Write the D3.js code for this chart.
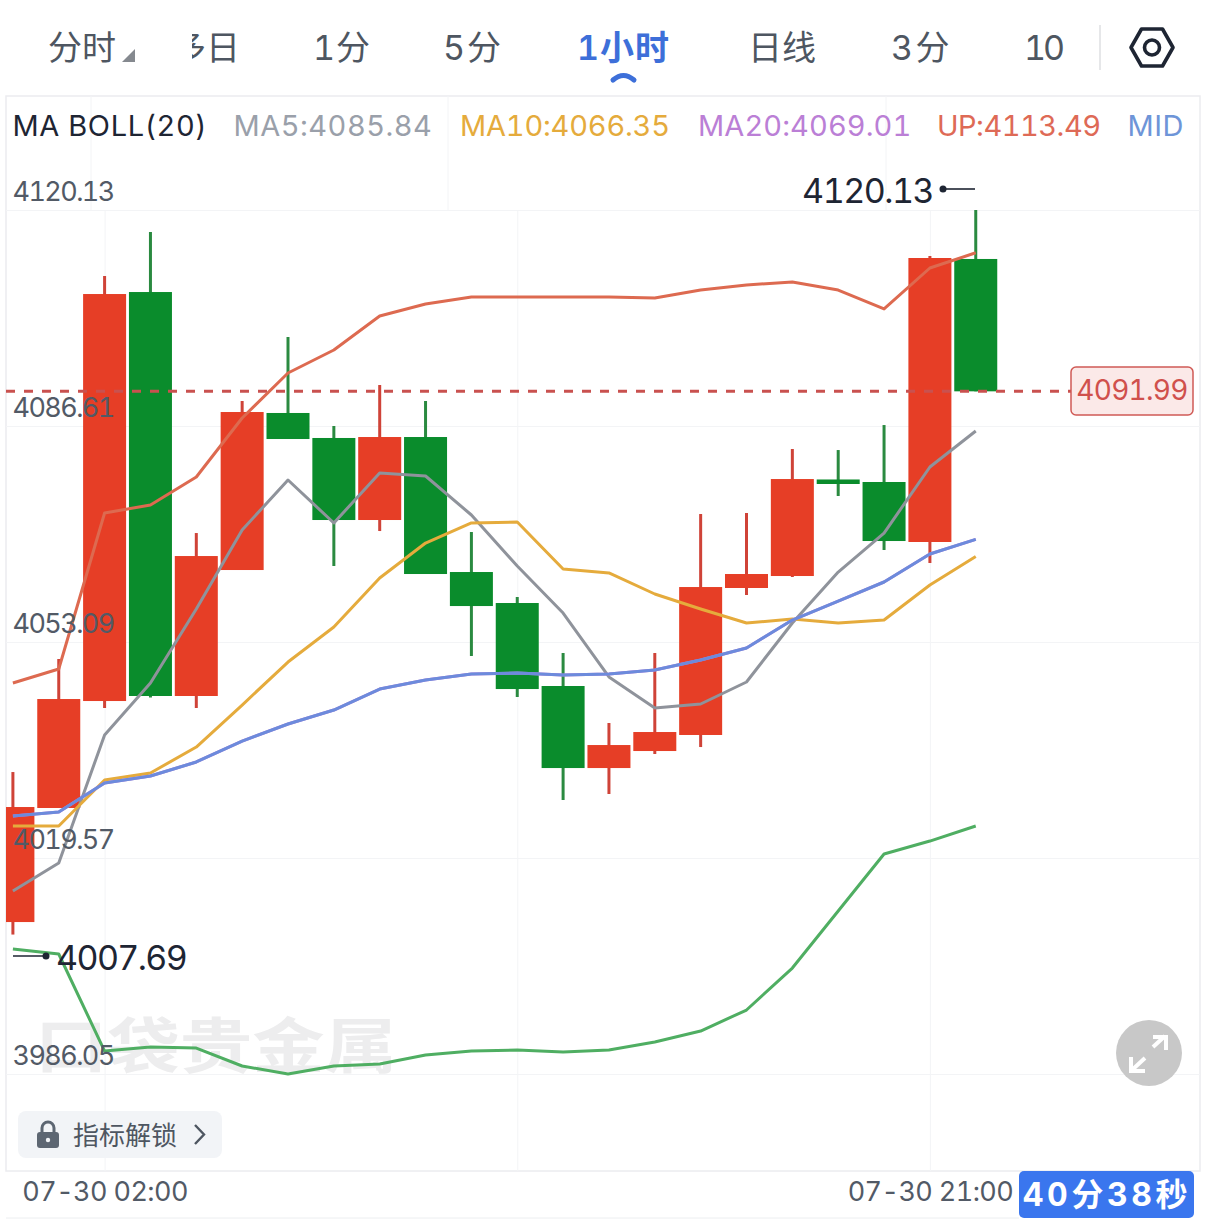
<!DOCTYPE html>
<html><head><meta charset="utf-8">
<style>html,body{margin:0;padding:0;background:#fff}svg{display:block}
text{font-family:Inter,"Noto Sans CJK SC",sans-serif;font-variant-numeric:tabular-nums}</style>
<script src="https://cdn.jsdelivr.net/npm/d3@7"></script>
</head><body><svg id="c" width="1206" height="1219"></svg>
<script>
const tabs=["分时","多日","1分","5分","1小时","日线","3分","10"];
const priceTicks=[4120.13,4086.61,4053.09,4019.57,3986.05];
const timeTickIndex=[2,11,20];
const timeTickLabels=["07-30 02:00","","07-30 21:00"];
const opens =[4009.63,4027.33,4043.93,4107.40,4044.71,4064.26,4088.63,4084.75,4072.02,4084.90,4063.95,4059.14,4046.26,4033.53,4036.17,4038.66,4061.47,4063.33,4078.31,4077.92,4068.61,4112.53];
const closes=[4027.48,4044.24,4107.09,4044.71,4066.43,4088.78,4084.59,4072.02,4084.90,4063.64,4058.67,4045.79,4033.53,4037.10,4039.12,4061.62,4063.64,4078.38,4077.61,4068.76,4112.68,4091.99];
const highs =[4032.91,4050.45,4109.89,4116.72,4070.00,4090.49,4100.42,4086.61,4092.97,4090.49,4070.16,4060.07,4051.38,4040.52,4051.38,4072.95,4073.11,4083.04,4082.88,4086.76,4112.99,4120.13];
const lows  =[4007.69,4027.33,4042.85,4044.48,4042.85,4064.26,4084.59,4064.88,4070.31,4063.64,4050.92,4044.55,4028.57,4029.50,4035.71,4036.79,4060.38,4063.18,4075.75,4067.37,4065.35,4091.99];
const ma5=[4014.45,4018.79,4038.66,4046.72,4058.21,4070.47,4078.23,4071.56,4079.32,4078.85,4072.80,4064.88,4057.59,4047.66,4042.85,4043.47,4046.88,4056.04,4063.95,4070.00,4080.25,4085.84];
const ma10=[4024.53,4024.53,4031.67,4032.76,4036.79,4043.31,4049.98,4055.42,4063.02,4068.45,4071.56,4071.71,4064.42,4063.80,4060.54,4058.21,4056.04,4056.66,4056.04,4056.50,4061.93,4066.35];
const mid=[4026.08,4026.71,4031.21,4032.29,4034.47,4037.72,4040.36,4042.53,4045.79,4047.19,4048.12,4048.28,4047.97,4048.12,4048.74,4050.29,4052.16,4056.50,4059.45,4062.40,4066.74,4069.01];
const up=[4046.72,4048.90,4073.11,4074.35,4078.69,4087.85,4094.83,4098.40,4103.68,4105.54,4106.63,4106.63,4106.63,4106.63,4106.47,4107.71,4108.49,4108.96,4107.71,4104.77,4111.13,4113.49];
const dn=[4005.44,4004.67,3989.61,3990.24,3990.08,3987.29,3986.05,3987.29,3987.60,3988.99,3989.61,3989.77,3989.46,3989.77,3991.01,3992.72,3995.98,4002.49,4011.34,4020.19,4022.20,4024.53];
const legendNames=["MA BOLL(20)","MA5:4085.84","MA10:4066.35","MA20:4069.01","UP:4113.49","MID"];
const lastPrice=4091.99, maxPrice=4120.13, minPrice=4007.69;

const svg=d3.select("#c");
const RED="#e63e26",GREEN="#0a8c2c",RWICK="#cf4338",GWICK="#2a8a40",GRID="#f3f4f6",TXT="#525a66",DARK="#1e2533";
const L=6,R=1200,T=96,B=1171;
const x=d3.scaleLinear().domain([0,21]).range([12.9,975.75]);
const y=d3.scaleLinear().domain([3986.05,4120.13]).range([1074,210]);
const BW=43;

svg.append("rect").attr("x",L).attr("y",T).attr("width",R-L).attr("height",B-T).attr("fill","#fff").attr("stroke","#ebecef").attr("stroke-width",1.5);
svg.append("g").selectAll("line").data([91,448,886]).join("line")
 .attr("x1",d=>d).attr("x2",d=>d).attr("y1",T).attr("y2",210).attr("stroke",GRID).attr("stroke-width",1);

const gx=svg.append("g").attr("transform",`translate(0,${B})`)
 .call(d3.axisBottom(x).tickValues(timeTickIndex).tickSize(-(B-210)).tickFormat((d,i)=>timeTickLabels[i]));
gx.select(".domain").remove();
gx.selectAll("line").attr("stroke",GRID).attr("stroke-width",1);
gx.selectAll("text").attr("fill",TXT).attr("font-size",27).attr("y",30).attr("dy",0).attr("text-anchor","middle").attr("letter-spacing",-0.6);

// horizontal grid under the candles
const gridY=svg.append("g").attr("transform",`translate(${L},0)`)
 .call(d3.axisRight(y).tickValues(priceTicks).tickSize(R-L).tickFormat(""));
gridY.select(".domain").remove();
gridY.selectAll("line").attr("stroke",GRID).attr("stroke-width",1);

svg.append("text").attr("x",35).attr("y",1068).attr("font-size",60).attr("font-weight",700)
 .attr("fill","#ededee").attr("textLength",362).attr("lengthAdjust","spacingAndGlyphs").text("口袋贵金属");

svg.append("defs").append("clipPath").attr("id","plot").append("rect").attr("x",L).attr("y",T).attr("width",R-L).attr("height",B-T);
const data=opens.map((o,i)=>({i,o,c:closes[i],h:highs[i],l:lows[i]}));
const cg=svg.append("g").attr("clip-path","url(#plot)");
cg.selectAll("line.w").data(data).join("line").attr("class","w")
 .attr("x1",d=>x(d.i)).attr("x2",d=>x(d.i)).attr("y1",d=>y(d.h)).attr("y2",d=>y(d.l))
 .attr("stroke",d=>d.c>=d.o?RWICK:GWICK).attr("stroke-width",3);
cg.selectAll("rect.b").data(data).join("rect").attr("class","b")
 .attr("x",d=>x(d.i)-BW/2).attr("width",BW)
 .attr("y",d=>y(Math.max(d.o,d.c))).attr("height",d=>Math.max(3,Math.abs(y(d.o)-y(d.c))))
 .attr("fill",d=>d.c>=d.o?RED:GREEN);

svg.append("line").attr("x1",L).attr("x2",1071).attr("y1",y(lastPrice)).attr("y2",y(lastPrice))
 .attr("stroke","#c9514f").attr("stroke-width",3).attr("stroke-dasharray","9 9");

const line=d3.line().x((d,i)=>x(i)).y(d=>y(d));
[[ma5,"#8f939b"],[ma10,"#e5ab3c"],[mid,"#bb7fd6"],[mid,"#6c8bdc"],[up,"#dd6a50"],[dn,"#4fae62"]].forEach(([s,c])=>{
 svg.append("path").attr("d",line(s)).attr("fill","none").attr("stroke",c).attr("stroke-width",3).attr("stroke-linejoin","round");
});

// price labels above the candles
const gy=svg.append("g").attr("transform",`translate(${L},0)`)
 .call(d3.axisRight(y).tickValues(priceTicks).tickSize(0).tickFormat(d3.format(".2f")));
gy.select(".domain").remove();
gy.selectAll("line").remove();
gy.selectAll("text").attr("fill",TXT).attr("font-size",27).attr("x",6.5).attr("dy",0).attr("y",-10).attr("text-anchor","start").attr("letter-spacing",-1.6);

const tabX=[48,null,313,443,577,748,891,1024];
const tabLS=[0,0,1,2,1,0,2.5,-3];
const tg=svg.append("g");
tg.append("defs").append("clipPath").attr("id","tabclip").append("rect").attr("x",192).attr("y",0).attr("width",900).attr("height",90);
tg.append("g").attr("clip-path","url(#tabclip)").append("text").attr("x",172).attr("y",60).attr("font-size",34).attr("fill","#4e5661").text(tabs[1]);
tabs.forEach((t,i)=>{
 if(i===1)return;
 const active=i===4;
 tg.append("text").attr("x",tabX[i]).attr("y",60).attr("font-size",34).attr("letter-spacing",tabLS[i])
  .attr("font-weight",active?600:400).attr("fill",active?"#3d6fd9":"#4e5661").text(t);
});
tg.append("path").attr("d","M122,62L135,62L135,49Z").attr("fill","#85898f");
tg.append("path").attr("d","M613,80Q623.5,71 634,80").attr("fill","none").attr("stroke","#3d6fd9").attr("stroke-width",5).attr("stroke-linecap","round");
tg.append("line").attr("x1",1100).attr("x2",1100).attr("y1",25).attr("y2",70).attr("stroke","#e6e7e9").attr("stroke-width",2);
tg.append("path").attr("d","M1141.5,29L1162.5,29L1173,47.5L1162.5,66L1141.5,66L1131,47.5Z").attr("fill","none").attr("stroke",DARK).attr("stroke-width",3.6).attr("stroke-linejoin","round");
tg.append("circle").attr("cx",1152).attr("cy",47.5).attr("r",7.5).attr("fill","none").attr("stroke",DARK).attr("stroke-width",3.6);

const legX=[12.5,233.5,460,698,937,1127.5], legC=[DARK,"#9aa0aa","#e5ab3c","#bb7fd6","#de6a56","#6e95d8"], legLS=[0.6,0.5,-0.2,0.1,-0.5,0.5];
legendNames.forEach((t,i)=>svg.append("text").attr("x",legX[i]).attr("y",136).attr("font-size",29).attr("letter-spacing",legLS[i]).attr("fill",legC[i]).text(t));

svg.append("text").attr("x",933).attr("y",203).attr("text-anchor","end").attr("font-size",34).attr("letter-spacing",-1.5).attr("fill",DARK).text(d3.format(".2f")(maxPrice));
svg.append("circle").attr("cx",943).attr("cy",189).attr("r",3.5).attr("fill",DARK);
svg.append("line").attr("x1",943).attr("x2",975).attr("y1",189).attr("y2",189).attr("stroke",DARK).attr("stroke-width",1.6);
svg.append("text").attr("x",56).attr("y",970).attr("font-size",34).attr("letter-spacing",-1.6).attr("fill",DARK).text(d3.format(".2f")(minPrice));
svg.append("circle").attr("cx",46).attr("cy",956).attr("r",3.5).attr("fill",DARK);
svg.append("line").attr("x1",13).attr("x2",46).attr("y1",956).attr("y2",956).attr("stroke",DARK).attr("stroke-width",1.6);

svg.append("rect").attr("x",1071).attr("y",367).attr("width",122).attr("height",48).attr("rx",5).attr("fill","#fbe9e8").attr("stroke","#d05a55").attr("stroke-width",1.5);
svg.append("text").attr("x",1132).attr("y",400).attr("text-anchor","middle").attr("font-size",28).attr("letter-spacing",-0.7).attr("fill","#d0504c").text(d3.format(".2f")(lastPrice));

svg.append("rect").attr("x",18).attr("y",1111).attr("width",204).attr("height",47).attr("rx",8).attr("fill","#f2f4f7");
svg.append("rect").attr("x",37).attr("y",1132).attr("width",22).attr("height",16).attr("rx",3).attr("fill","#5d6672");
svg.append("path").attr("d","M42,1133V1128A6,6 0 0 1 54,1128V1133").attr("fill","none").attr("stroke","#5d6672").attr("stroke-width",3);
svg.append("circle").attr("cx",48).attr("cy",1140).attr("r",2.2).attr("fill","#f2f4f7");
svg.append("text").attr("x",73).attr("y",1145).attr("font-size",26).attr("fill","#4e5661").text("指标解锁");
svg.append("path").attr("d","M195,1125L204,1134.5L195,1144").attr("fill","none").attr("stroke","#4e5661").attr("stroke-width",2.4);

svg.append("circle").attr("cx",1149).attr("cy",1053).attr("r",33).attr("fill","#c8c8c8");
svg.append("path").attr("d","M1153,1047L1165,1036M1153,1037H1166V1050M1145,1058L1132,1070M1131,1057V1071H1145").attr("fill","none").attr("stroke","#fff").attr("stroke-width",4);

svg.append("rect").attr("x",1019).attr("y",1171).attr("width",175).attr("height",47).attr("rx",5).attr("fill","#3a76ee");
svg.append("text").attr("x",1107).attr("y",1206).attr("text-anchor","middle").attr("font-size",32).attr("font-weight",700).attr("fill","#fff").attr("letter-spacing",3.6).text("40分38秒");
svg.append("line").attr("x1",6).attr("x2",1019).attr("y1",1218).attr("y2",1218).attr("stroke","#eceef0").attr("stroke-width",1);
</script></body></html>
